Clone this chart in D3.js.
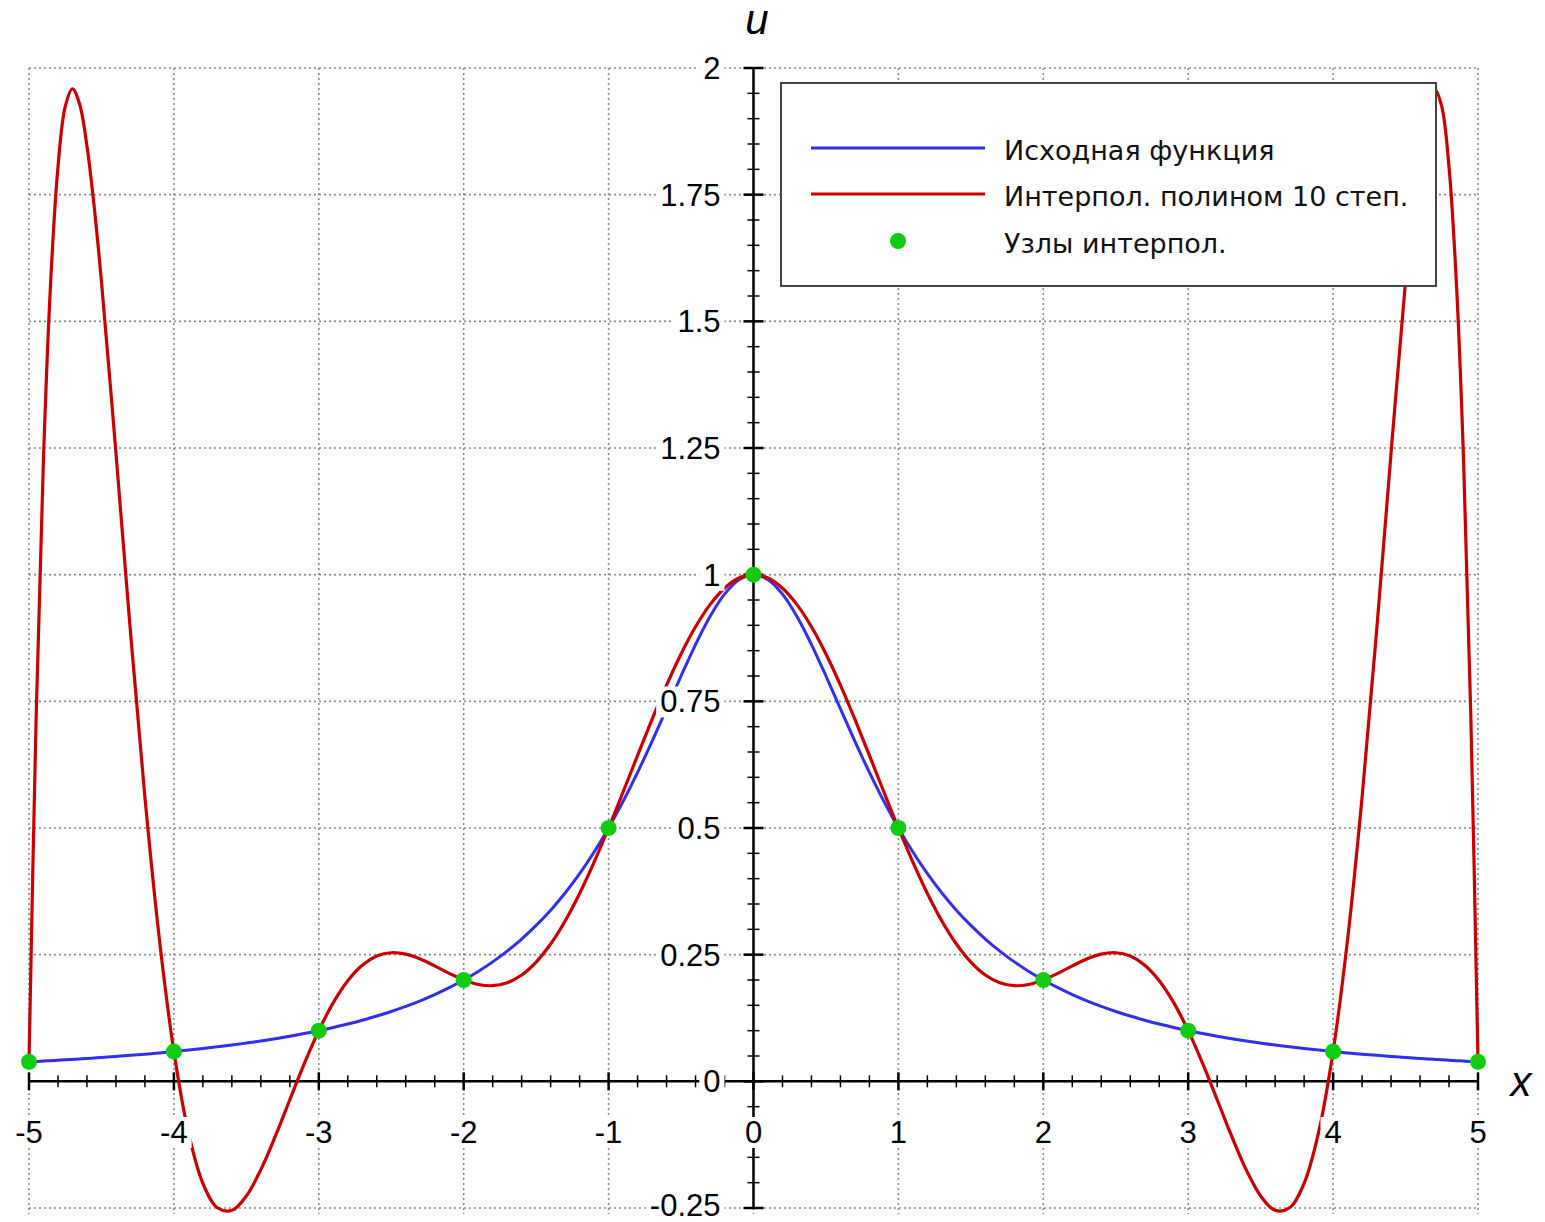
<!DOCTYPE html>
<html>
<head>
<meta charset="utf-8">
<script src="https://cdn.jsdelivr.net/npm/d3@7"></script>
<style>
  body { margin: 0; background: #fff; }
  svg { display: block; }
</style>
</head>
<body>
<div id="chart"></div>
<script>
(function () {

  // sample points along x (denser near the ends where the polynomial swings)
  const xs = [
    -5, -4.95, -4.9, -4.85, -4.8, -4.75, -4.7, -4.65, -4.6, -4.55, -4.5,
    -4.4, -4.3, -4.2, -4.1, -4, -3.9, -3.8, -3.7, -3.6, -3.5, -3.4, -3.3, -3.2, -3.1,
    -3, -2.9, -2.8, -2.7, -2.6, -2.5, -2.4, -2.3, -2.2, -2.1,
    -2, -1.9, -1.8, -1.7, -1.6, -1.5, -1.4, -1.3, -1.2, -1.1,
    -1, -0.9, -0.8, -0.7, -0.6, -0.5, -0.4, -0.3, -0.2, -0.1,
    0,
    0.1, 0.2, 0.3, 0.4, 0.5, 0.6, 0.7, 0.8, 0.9, 1,
    1.1, 1.2, 1.3, 1.4, 1.5, 1.6, 1.7, 1.8, 1.9, 2,
    2.1, 2.2, 2.3, 2.4, 2.5, 2.6, 2.7, 2.8, 2.9, 3,
    3.1, 3.2, 3.3, 3.4, 3.5, 3.6, 3.7, 3.8, 3.9, 4,
    4.1, 4.2, 4.3, 4.4,
    4.5, 4.55, 4.6, 4.65, 4.7, 4.75, 4.8, 4.85, 4.9, 4.95, 5
  ];

  // "Исходная функция"
  const uSource = [
    0.0385, 0.0392, 0.0400, 0.0408, 0.0416, 0.0424, 0.0433, 0.0442, 0.0451, 0.0461, 0.0471,
    0.0491, 0.0513, 0.0536, 0.0561, 0.0588, 0.0617, 0.0648, 0.0681, 0.0716, 0.0755, 0.0796, 0.0841, 0.0890, 0.0943,
    0.1, 0.1063, 0.1131, 0.1206, 0.1289, 0.1379, 0.1479, 0.1590, 0.1712, 0.1848,
    0.2, 0.2169, 0.2358, 0.2571, 0.2809, 0.3077, 0.3378, 0.3717, 0.4098, 0.4525,
    0.5, 0.5525, 0.6098, 0.6711, 0.7353, 0.8, 0.8621, 0.9174, 0.9615, 0.9901,
    1,
    0.9901, 0.9615, 0.9174, 0.8621, 0.8, 0.7353, 0.6711, 0.6098, 0.5525, 0.5,
    0.4525, 0.4098, 0.3717, 0.3378, 0.3077, 0.2809, 0.2571, 0.2358, 0.2169, 0.2,
    0.1848, 0.1712, 0.1590, 0.1479, 0.1379, 0.1289, 0.1206, 0.1131, 0.1063, 0.1,
    0.0943, 0.0890, 0.0841, 0.0796, 0.0755, 0.0716, 0.0681, 0.0648, 0.0617, 0.0588,
    0.0561, 0.0536, 0.0513, 0.0491,
    0.0471, 0.0461, 0.0451, 0.0442, 0.0433, 0.0424, 0.0416, 0.0408, 0.0400, 0.0392, 0.0385
  ];

  // "Интерпол. полином 10 степ."
  const uPoly = [
    0.0385, 0.7261, 1.2303, 1.5810, 1.8044, 1.9236, 1.9590, 1.9279, 1.8459, 1.7257, 1.5787,
    1.2402, 0.8881, 0.5604, 0.2802, 0.0588, -0.1007, -0.2013, -0.2496, -0.2546, -0.2262, -0.1743, -0.1083, -0.0363, 0.0349,
    0.1, 0.1554, 0.1987, 0.2292, 0.2472, 0.2538, 0.2510, 0.2415, 0.2278, 0.2131,
    0.2, 0.1912, 0.1888, 0.1946, 0.2099, 0.2354, 0.2710, 0.3165, 0.3708, 0.4326,
    0.5, 0.5710, 0.6432, 0.7142, 0.7818, 0.8434, 0.8971, 0.9409, 0.9733, 0.9933,
    1,
    0.9933, 0.9733, 0.9409, 0.8971, 0.8434, 0.7818, 0.7142, 0.6432, 0.5710, 0.5,
    0.4326, 0.3708, 0.3165, 0.2710, 0.2354, 0.2099, 0.1946, 0.1888, 0.1912, 0.2,
    0.2131, 0.2278, 0.2415, 0.2510, 0.2538, 0.2472, 0.2292, 0.1987, 0.1554, 0.1,
    0.0349, -0.0363, -0.1083, -0.1743, -0.2262, -0.2546, -0.2496, -0.2013, -0.1007, 0.0588,
    0.2802, 0.5604, 0.8881, 1.2402,
    1.5787, 1.7257, 1.8459, 1.9279, 1.9590, 1.9236, 1.8044, 1.5810, 1.2303, 0.7261, 0.0385
  ];

  // "Узлы интерпол."
  const nodeX = [-5, -4, -3, -2, -1, 0, 1, 2, 3, 4, 5];
  const nodeU = [0.0385, 0.0588, 0.1, 0.2, 0.5, 1, 0.5, 0.2, 0.1, 0.0588, 0.0385];

  const xTicks = [-5, -4, -3, -2, -1, 0, 1, 2, 3, 4, 5];
  const xTickLabels = ["-5", "-4", "-3", "-2", "-1", "0", "1", "2", "3", "4", "5"];
  const yTicks = [-0.25, 0, 0.25, 0.5, 0.75, 1, 1.25, 1.5, 1.75, 2];
  const yTickLabels = ["-0.25", "0", "0.25", "0.5", "0.75", "1", "1.25", "1.5", "1.75", "2"];

  const legendItems = ["Исходная функция", "Интерпол. полином 10 степ.", "Узлы интерпол."];

  const blue = "#2f2ff0";
  const red = "#cc0000";
  const green = "#11cc11";

  const W = 1545, H = 1222;

  const svg = d3.select("#chart")
    .append("svg")
    .attr("width", W)
    .attr("height", H);

  const x = d3.scaleLinear().domain([-5, 5]).range([29, 1478]);
  const y = d3.scaleLinear().domain([-0.25, 2]).range([1208, 68]);

  const x0 = x(0), y0 = y(0);

  // dotted grid
  const grid = svg.append("g")
    .attr("stroke", "#8a8a8a")
    .attr("stroke-width", 1.6)
    .attr("stroke-dasharray", "2,3");

  grid.selectAll("line.gx")
    .data(xTicks)
    .join("line")
    .attr("class", "gx")
    .attr("x1", d => x(d)).attr("x2", d => x(d))
    .attr("y1", y(2)).attr("y2", 1214);

  grid.selectAll("line.gy")
    .data(yTicks)
    .join("line")
    .attr("class", "gy")
    .attr("x1", x(-5)).attr("x2", x(5))
    .attr("y1", d => y(d)).attr("y2", d => y(d));

  // axes through the origin, ticks crossing the line
  const axes = svg.append("g").attr("stroke", "#000");

  axes.append("line")
    .attr("x1", x(-5)).attr("x2", x(5))
    .attr("y1", y0).attr("y2", y0)
    .attr("stroke-width", 2.5);

  axes.append("line")
    .attr("x1", x0).attr("x2", x0)
    .attr("y1", y(2)).attr("y2", y(-0.25))
    .attr("stroke-width", 2.5);

  const xMinor = d3.range(-50, 51, 2).filter(v => v % 10 !== 0).map(v => v / 10);
  const yMinor = d3.range(-25, 201, 5).filter(v => v % 25 !== 0).map(v => v / 100);

  axes.selectAll("line.xmin")
    .data(xMinor)
    .join("line")
    .attr("class", "xmin")
    .attr("x1", d => x(d)).attr("x2", d => x(d))
    .attr("y1", y0 - 6).attr("y2", y0 + 6)
    .attr("stroke-width", 1.5);

  axes.selectAll("line.xmaj")
    .data(xTicks)
    .join("line")
    .attr("class", "xmaj")
    .attr("x1", d => x(d)).attr("x2", d => x(d))
    .attr("y1", y0 - 9).attr("y2", y0 + 9)
    .attr("stroke-width", 2.5);

  axes.selectAll("line.ymin")
    .data(yMinor)
    .join("line")
    .attr("class", "ymin")
    .attr("x1", x0 - 6).attr("x2", x0 + 6)
    .attr("y1", d => y(d)).attr("y2", d => y(d))
    .attr("stroke-width", 1.5);

  axes.selectAll("line.ymaj")
    .data(yTicks)
    .join("line")
    .attr("class", "ymaj")
    .attr("x1", x0 - 10).attr("x2", x0 + 10)
    .attr("y1", d => y(d)).attr("y2", d => y(d))
    .attr("stroke-width", 2.5);

  // curves
  const line = d3.line()
    .x(d => x(d[0]))
    .y(d => y(d[1]))
    .curve(d3.curveCatmullRom.alpha(0.5));

  svg.append("path")
    .datum(xs.map((v, i) => [v, uSource[i]]))
    .attr("fill", "none")
    .attr("stroke", blue)
    .attr("stroke-width", 3)
    .attr("d", line);

  svg.append("path")
    .datum(xs.map((v, i) => [v, uPoly[i]]))
    .attr("fill", "none")
    .attr("stroke", red)
    .attr("stroke-width", 3.2)
    .attr("d", line);

  svg.selectAll("circle.node")
    .data(nodeX.map((v, i) => [v, nodeU[i]]))
    .join("circle")
    .attr("class", "node")
    .attr("cx", d => x(d[0]))
    .attr("cy", d => y(d[1]))
    .attr("r", 8)
    .attr("fill", green);

  // tick labels with a white knock-out behind them
  function labelWithBg(g, px, py, txt, anchor, dy) {
    const bg = g.append("rect").attr("fill", "#fff");
    const t = g.append("text")
      .attr("x", px)
      .attr("y", py)
      .attr("dy", dy)
      .attr("text-anchor", anchor)
      .text(txt);
    const b = t.node().getBBox();
    bg.attr("x", b.x - 4).attr("y", b.y + 2)
      .attr("width", b.width + 8).attr("height", b.height - 4);
  }

  const labels = svg.append("g")
    .style("font-family", "'Liberation Sans', Arial, sans-serif")
    .style("font-size", "31px")
    .attr("fill", "#000");

  yTicks.forEach((v, i) => {
    labelWithBg(labels, x0 - 33, v === -0.25 ? y(v) - 3 : y(v), yTickLabels[i], "end", "0.36em");
  });

  xTicks.forEach((v, i) => {
    labelWithBg(labels, x(v), 1143, xTickLabels[i], "middle", 0);
  });

  // axis names
  svg.append("text")
    .attr("x", 757)
    .attr("y", 34)
    .attr("text-anchor", "middle")
    .style("font-family", "'Liberation Sans', Arial, sans-serif")
    .style("font-size", "42px")
    .style("font-style", "italic")
    .text("u");

  svg.append("text")
    .attr("x", 1521)
    .attr("y", 1096)
    .attr("text-anchor", "middle")
    .style("font-family", "'Liberation Sans', Arial, sans-serif")
    .style("font-size", "42px")
    .style("font-style", "italic")
    .text("x");

  // legend
  const legend = svg.append("g");

  legend.append("rect")
    .attr("x", 781).attr("y", 83)
    .attr("width", 655).attr("height", 203)
    .attr("fill", "#fff")
    .attr("stroke", "#444")
    .attr("stroke-width", 2);

  const rowY = [148, 194, 241];

  legend.append("line")
    .attr("x1", 811).attr("x2", 985)
    .attr("y1", rowY[0]).attr("y2", rowY[0])
    .attr("stroke", blue).attr("stroke-width", 3);

  legend.append("line")
    .attr("x1", 811).attr("x2", 985)
    .attr("y1", rowY[1]).attr("y2", rowY[1])
    .attr("stroke", red).attr("stroke-width", 3);

  legend.append("circle")
    .attr("cx", 898).attr("cy", rowY[2])
    .attr("r", 8)
    .attr("fill", green);

  legend.selectAll("text")
    .data(legendItems)
    .join("text")
    .attr("x", 1004)
    .attr("y", (d, i) => rowY[i] + 12)
    .style("font-family", "'DejaVu Sans', Verdana, sans-serif")
    .style("font-size", "27px")
    .attr("fill", "#111")
    .text(d => d);

})();
</script>
</body>
</html>
